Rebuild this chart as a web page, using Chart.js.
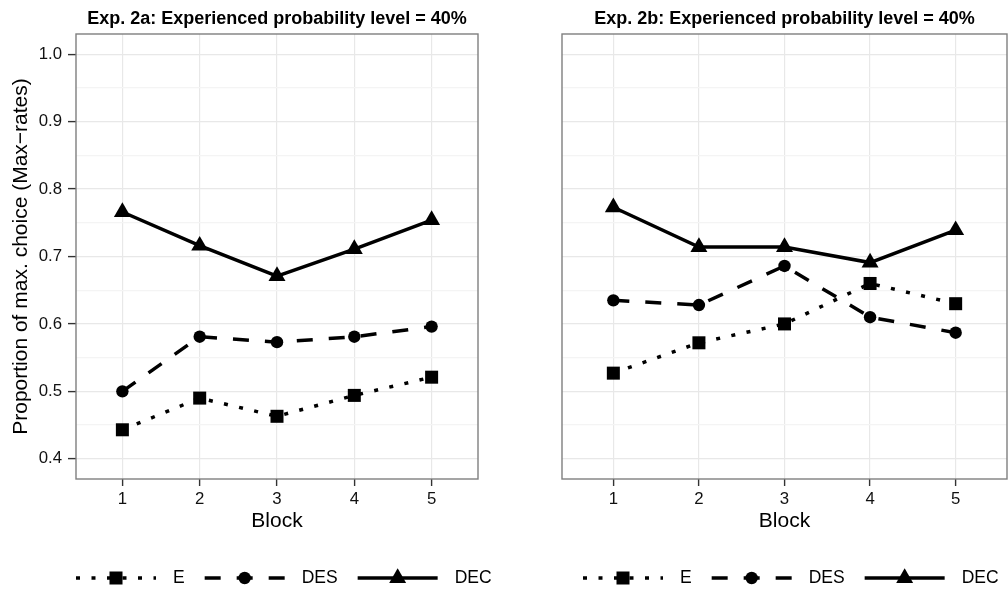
<!DOCTYPE html>
<html lang="en">
<head>
    <meta charset="UTF-8">
    <title>Exp. 2a / 2b max-rates</title>
    <script src="https://cdn.jsdelivr.net/npm/chart.js"></script>
    <style>
        body { margin: 0; background: #fff; }
        .row { display: flex; width: 1008px; height: 589px; }
        .panel { position: relative; width: 504px; height: 589px; }
    </style>
</head>
<body>
    <div class="row">
        <div class="panel"><canvas id="chart-2a"></canvas></div>
        <div class="panel"><canvas id="chart-2b"></canvas></div>
    </div>

    <script>
        // Data
        const blocks = [1, 2, 3, 4, 5];
        const seriesNames = ['E', 'DES', 'DEC'];

        const exp2aE   = [0.443, 0.490, 0.463, 0.494, 0.521];
        const exp2aDES = [0.500, 0.581, 0.573, 0.581, 0.596];
        const exp2aDEC = [0.766, 0.716, 0.671, 0.711, 0.754];

        const exp2bE   = [0.527, 0.572, 0.600, 0.660, 0.630];
        const exp2bDES = [0.635, 0.628, 0.686, 0.610, 0.587];
        const exp2bDEC = [0.773, 0.714, 0.714, 0.691, 0.739];

        const yMajorTicks = [0.4, 0.5, 0.6, 0.7, 0.8, 0.9, 1.0];
        const yMinorTicks = [0.45, 0.55, 0.65, 0.75, 0.85, 0.95];
        const xTicks = [1, 2, 3, 4, 5];

        const FONT = "'Liberation Sans', Arial, Helvetica, sans-serif";
        Chart.defaults.font.family = FONT;
        Chart.defaults.color = '#111';

        // per-series look (line dash + marker)
        const styles = {
            E:   { dash: [4, 11.5], point: 'rect', radius: 9.2 },
            DES: { dash: [16, 16], point: 'circle', radius: 6.2 },
            DEC: { dash: [], point: 'triangle', radius: 9.8 }
        };

        function isMinor(v) {
            return Math.abs(v * 10 - Math.round(v * 10)) > 0.01;
        }

        function makeDataset(name, values) {
            const s = styles[name];
            return {
                label: name,
                data: blocks.map((b, i) => ({ x: b, y: values[i] })),
                borderColor: '#000',
                backgroundColor: '#000',
                borderWidth: 3.5,
                borderDash: s.dash,
                pointStyle: s.point,
                pointRadius: s.radius,
                pointBorderWidth: 0,
                pointBackgroundColor: '#000',
                tension: 0
            };
        }

        // draws panel border, titles and the ggplot-like legend
        const decorations = {
            id: 'decorations',
            afterDraw(chart, args, opts) {
                const ctx = chart.ctx;
                const a = chart.chartArea;
                const cx = (a.left + a.right) / 2;
                ctx.save();

                ctx.strokeStyle = '#7f7f7f';
                ctx.lineWidth = 1.4;
                ctx.strokeRect(a.left, a.top, a.right - a.left, a.bottom - a.top);

                ctx.fillStyle = '#000';
                ctx.textAlign = 'center';
                ctx.textBaseline = 'middle';
                ctx.font = 'bold 18px ' + FONT;
                ctx.fillText(opts.title, cx, 19);

                ctx.font = '21px ' + FONT;
                ctx.fillText('Block', cx, 521);

                if (opts.yTitle) {
                    ctx.save();
                    ctx.translate(21, (a.top + a.bottom) / 2);
                    ctx.rotate(-Math.PI / 2);
                    ctx.fillText(opts.yTitle, 0, 0);
                    ctx.restore();
                }

                // legend
                const ly = 578;
                let x = opts.legendX;
                ctx.font = '17.5px ' + FONT;
                ctx.textAlign = 'left';
                seriesNames.forEach(name => {
                    const s = styles[name];
                    ctx.beginPath();
                    ctx.setLineDash(s.dash);
                    ctx.lineWidth = 3.5;
                    ctx.strokeStyle = '#000';
                    ctx.moveTo(x, ly);
                    ctx.lineTo(x + 80, ly);
                    ctx.stroke();
                    ctx.setLineDash([]);
                    drawMarker(ctx, s.point, x + 40, ly, s.radius);
                    ctx.fillStyle = '#000';
                    ctx.fillText(name, x + 97, ly);
                    x += 97 + ctx.measureText(name).width + 20;
                });
                ctx.restore();
            }
        };

        function drawMarker(ctx, style, x, y, r) {
            ctx.beginPath();
            if (style === 'rect') {
                const h = Math.SQRT1_2 * r;
                ctx.rect(x - h, y - h, 2 * h, 2 * h);
            } else if (style === 'circle') {
                ctx.arc(x, y, r, 0, Math.PI * 2);
            } else {
                for (let k = 0; k < 3; k++) {
                    const ang = k * 2 * Math.PI / 3;
                    const px = x + Math.sin(ang) * r;
                    const py = y - Math.cos(ang) * r;
                    if (k === 0) ctx.moveTo(px, py); else ctx.lineTo(px, py);
                }
                ctx.closePath();
            }
            ctx.fillStyle = '#000';
            ctx.fill();
        }

        function makeChart(id, values, cfg) {
            const ctx = document.getElementById(id).getContext('2d');
            return new Chart(ctx, {
                type: 'line',
                data: {
                    datasets: [
                        makeDataset('E', values[0]),
                        makeDataset('DES', values[1]),
                        makeDataset('DEC', values[2])
                    ]
                },
                options: {
                    responsive: true,
                    maintainAspectRatio: false,
                    animation: false,
                    events: [],
                    layout: {
                        autoPadding: false,
                        padding: { top: 34, right: cfg.padRight, bottom: 0, left: 0 }
                    },
                    plugins: {
                        legend: { display: false },
                        tooltip: { enabled: false },
                        decorations: {
                            title: cfg.title,
                            yTitle: cfg.yTitle,
                            legendX: cfg.legendX
                        }
                    },
                    scales: {
                        x: {
                            type: 'linear',
                            min: 0.4,
                            max: 5.6,
                            afterBuildTicks: scale => { scale.ticks = xTicks.map(v => ({ value: v })); },
                            afterFit: scale => {
                                scale.height = 110;
                                scale.paddingLeft = 0;
                                scale.paddingRight = 0;
                            },
                            border: { display: false },
                            grid: {
                                color: '#e8e8e8',
                                lineWidth: 1.2,
                                tickLength: 7,
                                tickColor: '#333',
                                tickWidth: 1.4
                            },
                            ticks: {
                                padding: 3,
                                maxRotation: 0,
                                font: { size: 16.8 },
                                color: '#111',
                                callback: v => String(v)
                            }
                        },
                        y: {
                            min: 0.37,
                            max: 1.03,
                            afterBuildTicks: scale => {
                                scale.ticks = yMajorTicks.concat(yMinorTicks)
                                    .sort((p, q) => p - q)
                                    .map(v => ({ value: v }));
                            },
                            afterFit: scale => {
                                scale.width = cfg.yWidth;
                                scale.paddingTop = 0;
                                scale.paddingBottom = 0;
                            },
                            border: { display: false },
                            grid: {
                                color: c => isMinor(c.tick.value) ? '#f4f4f4' : '#e8e8e8',
                                lineWidth: 1.2,
                                drawTicks: cfg.yLabels,
                                tickLength: 8,
                                tickWidth: 1.4,
                                tickColor: c => isMinor(c.tick.value) ? 'rgba(0,0,0,0)' : '#333'
                            },
                            ticks: {
                                display: cfg.yLabels,
                                padding: 6,
                                font: { size: 16.8 },
                                color: '#111',
                                callback: v => isMinor(v) ? '' : v.toFixed(1)
                            }
                        }
                    }
                },
                plugins: [decorations]
            });
        }

        makeChart('chart-2a', [exp2aE, exp2aDES, exp2aDEC], {
            title: 'Exp. 2a: Experienced probability level = 40%',
            yTitle: 'Proportion of max. choice (Max\u2212rates)',
            yLabels: true,
            yWidth: 76,
            padRight: 26,
            legendX: 76
        });

        makeChart('chart-2b', [exp2bE, exp2bDES, exp2bDEC], {
            title: 'Exp. 2b: Experienced probability level = 40%',
            yTitle: '',
            yLabels: false,
            yWidth: 58,
            padRight: 1,
            legendX: 79
        });
    </script>
</body>
</html>
